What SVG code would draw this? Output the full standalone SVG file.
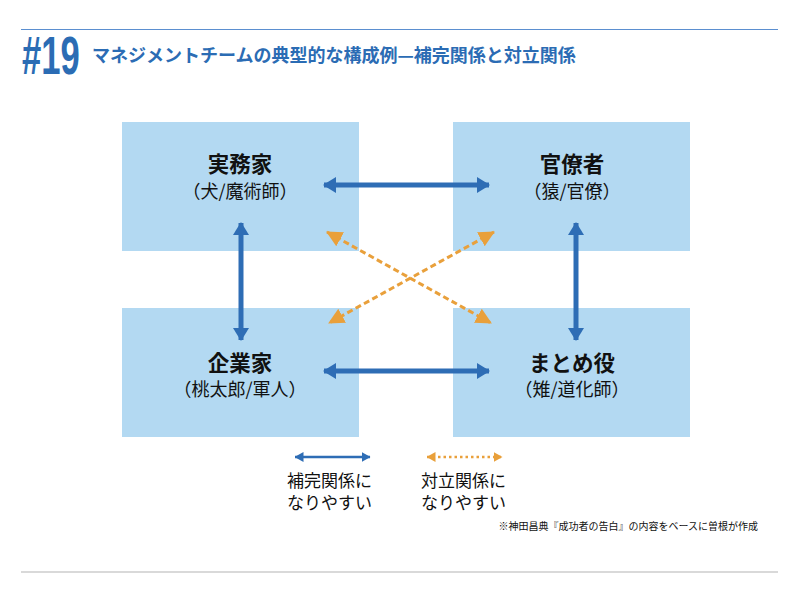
<svg xmlns="http://www.w3.org/2000/svg" width="800" height="598" viewBox="0 0 800 598">
<style>
.box{fill:#b3d9f2}
.jp{font-family:"Noto Sans CJK JP","Noto Sans",sans-serif}
.name{font-size:21.5px;font-weight:bold;fill:#111;text-anchor:middle}
.sub{font-size:18px;fill:#111;text-anchor:middle}
.blue{stroke:#2e6db5;stroke-width:5;fill:none}
.orange{stroke:#e9a03b;stroke-width:3;fill:none;stroke-dasharray:6 3.5}
.leg{font-size:17px;fill:#111}
</style>
<defs>
<marker id="bh" markerUnits="userSpaceOnUse" viewBox="0 0 13 16" refX="12" refY="8" markerWidth="13" markerHeight="16" orient="auto-start-reverse"><path d="M0,0 L13,8 L0,16 Z" fill="#2e6db5"/></marker>
<marker id="oh" markerUnits="userSpaceOnUse" viewBox="0 0 16 16" refX="15" refY="8" markerWidth="16" markerHeight="16" orient="auto-start-reverse"><path d="M0,0 L16,8 L0,16 Z" fill="#e9a03b"/></marker>
<marker id="bs" markerUnits="userSpaceOnUse" viewBox="0 0 9 10" refX="8.5" refY="5" markerWidth="9" markerHeight="10" orient="auto-start-reverse"><path d="M0,0 L9,5 L0,10 Z" fill="#2e6db5"/></marker>
<marker id="os" markerUnits="userSpaceOnUse" viewBox="0 0 9 10" refX="8.5" refY="5" markerWidth="9" markerHeight="10" orient="auto-start-reverse"><path d="M0,0 L9,5 L0,10 Z" fill="#e9a03b"/></marker>
</defs>
<rect width="800" height="598" fill="#fff"/>
<line x1="21" y1="29.5" x2="778" y2="29.5" stroke="#5b8fd0" stroke-width="1.2"/>
<line x1="21" y1="572" x2="778" y2="572" stroke="#cccccc" stroke-width="1.5"/>
<text x="0" y="0" transform="translate(22 74) scale(0.64 1)" font-family="'Liberation Sans',sans-serif" font-size="54" font-weight="bold" fill="#2b6cb4">#19</text>
<text class="jp" x="92" y="62" font-size="18" font-weight="bold" fill="#2b6cb4">マネジメントチームの典型的な構成例—補完関係と対立関係</text>
<g id="node-jitsumuka"><rect class="box" x="122" y="122" width="237" height="129"/><text class="jp name" x="240" y="172">実務家</text><text class="jp sub" x="240" y="198">（犬/魔術師）</text></g>
<g id="node-kanryosha"><rect class="box" x="453" y="122" width="237" height="129"/><text class="jp name" x="572" y="172">官僚者</text><text class="jp sub" x="572" y="198">（猿/官僚）</text></g>
<g id="node-kigyoka"><rect class="box" x="122" y="308" width="237" height="129"/><text class="jp name" x="240" y="371">企業家</text><text class="jp sub" x="240" y="396">（桃太郎/軍人）</text></g>
<g id="node-matomeyaku"><rect class="box" x="453" y="308" width="237" height="129"/><text class="jp name" x="572" y="371">まとめ役</text><text class="jp sub" x="572" y="396">（雉/道化師）</text></g>
<g id="connectors">
<line class="blue" x1="324" y1="185" x2="489" y2="185" marker-start="url(#bh)" marker-end="url(#bh)"/>
<line class="blue" x1="324" y1="371" x2="489" y2="371" marker-start="url(#bh)" marker-end="url(#bh)"/>
<line class="blue" x1="241" y1="223" x2="241" y2="340" marker-start="url(#bh)" marker-end="url(#bh)"/>
<line class="blue" x1="576" y1="223" x2="576" y2="340" marker-start="url(#bh)" marker-end="url(#bh)"/>
<line class="orange" x1="327" y1="232" x2="491" y2="323" marker-start="url(#oh)" marker-end="url(#oh)"/>
<line class="orange" x1="494" y1="232" x2="329" y2="323" marker-start="url(#oh)" marker-end="url(#oh)"/>
</g>
<g id="legend">
<line x1="295" y1="457" x2="370" y2="457" stroke="#2e6db5" stroke-width="2.5" marker-start="url(#bs)" marker-end="url(#bs)"/>
<line x1="427" y1="457" x2="502" y2="457" stroke="#e9a03b" stroke-width="2.5" stroke-dasharray="2.5 3" marker-start="url(#os)" marker-end="url(#os)"/>
<text class="jp leg" x="287" y="487"><tspan x="287" y="487">補完関係に</tspan><tspan x="287" y="509">なりやすい</tspan></text>
<text class="jp leg" x="421" y="487"><tspan x="421" y="487">対立関係に</tspan><tspan x="421" y="509">なりやすい</tspan></text>
<text class="jp" x="758" y="530" font-size="10" fill="#111" text-anchor="end">※神田昌典『成功者の告白』の内容をベースに曽根が作成</text>
</g>
</svg>
